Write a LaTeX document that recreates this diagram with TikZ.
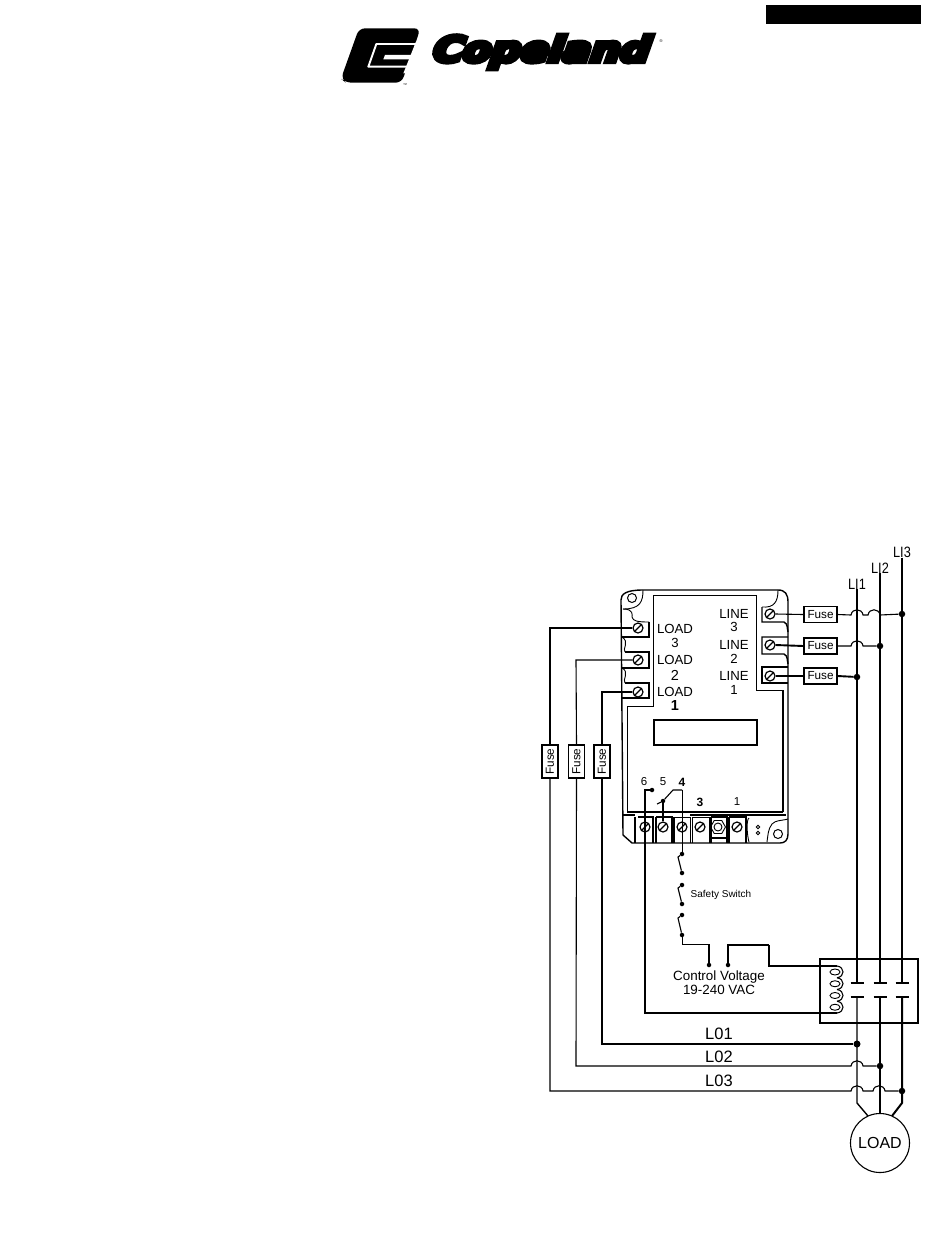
\documentclass[tikz,border=0pt]{standalone}
\usepackage{fontspec}
\setmainfont{Liberation Sans}
\newfontfamily\logofont{DejaVu Sans}[FakeBold=14,FakeSlant=0.3]
\usetikzlibrary{shapes.geometric}
\newcommand{\fsz}[1]{\fontsize{#1}{#1}\selectfont}
\def\hopw{.. controls +(1,-7) and +(-1,-7) .. ++(12,0)}
\tikzset{
  line/.style={line width=1.1pt,black},
  heavy/.style={line width=1.9pt,black},
  board/.style={line width=0.9pt,black},
  boardb/.style={line width=1.4pt,black},
  screw/.style={circle,draw,line width=1.2pt,inner sep=0pt,minimum size=10pt,
    path picture={\draw[line width=1.3pt] (path picture bounding box.south west) -- (path picture bounding box.north east);}},
  dotn/.style={circle,fill=black,inner sep=0pt,minimum size=4.5pt},
  jn/.style={circle,fill=black,inner sep=0pt,minimum size=6.5pt},
  fuseh/.style={draw,line width=1.1pt,fill=white,inner sep=0pt,minimum width=33pt,minimum height=16pt,font=\fsz{11.7}},
  fusev/.style={fuseh,rotate=90},
  load/.style={font=\fsz{13.2},inner sep=0pt},
  num/.style={font=\fsz{11.5},inner sep=0pt},
  bus/.style={font=\fsz{15},inner sep=0pt,xscale=.85},
  lo/.style={font=\fsz{16.5},inner sep=0pt},
  hole/.style={circle,draw,line width=1pt,inner sep=0pt,minimum size=9pt}
}
\begin{document}
\begin{tikzpicture}[x=1pt,y=-1pt]
\useasboundingbox (0,0) rectangle (950,1248);
\fill[white] (0,0) rectangle (950,1248);
% header bar
\fill[black] (766,5) rectangle (921,24);
% logo mark
\begin{scope}[shift={(335,20)},x=0.3333pt,y=-0.3333pt]
  \fill[black,rounded corners=6pt] (72,25) -- (256,25) -- (243,65) -- (215,145) -- (200,188) -- (32,188) -- (18,176) -- cycle;
  \draw[white,line width=1.9pt,line join=round] (262,72) -- (124,72) -- (100,140) -- (235,140);
  \fill[white] (150,105) -- (250,105) -- (245,118) -- (145,118) -- cycle;
  \fill[white] (243,65) -- (262,65) -- (225,160) -- (205,160) -- cycle;
\end{scope}
\node[inner sep=0pt,font=\fsz{4}] (tm) at (405,85) {™};
\node[inner sep=0pt,xscale=1.18,font=\logofont\bfseries\fsz{35}] (logo) at (538,52) {Copeland};
\node[inner sep=0pt,font=\fsz{4}] (reg) at (661,41) {®};

% board outline
\draw[boardb,line join=round] (643,590) -- (778,590) .. controls (785,590) and (788,594) .. (788,602) -- (788,834) .. controls (788,840) and (785,843) .. (780,843) -- (632,843) -- (623,835) -- (621,600) .. controls (621,594) and (626,590) .. (643,590);
\draw[board] (643,590) .. controls (643,602) and (640,609) .. (623,609);
\draw[board] (623,609) .. controls (634,609) and (632,615) .. (632,617) .. controls (633,621) and (637,622) .. (649,622);
\draw[boardb] (649,622) -- (649,637) -- (622,637);
\draw[board] (622,637) .. controls (630,642) and (622,649) .. (625,652);
\draw[boardb] (625,652) -- (649,652) -- (649,668) -- (622,668);
\draw[board] (622,668) .. controls (630,672) and (622,680) .. (625,683);
\draw[boardb] (625,683) -- (649,683) -- (649,698) -- (622,698);
\draw[board] (778,590) .. controls (778,602) and (774,608) .. (762,607);
\draw[boardb] (762,607) -- (762,622) -- (784,622) .. controls (788,624) and (787,628) .. (788,632);
\draw[boardb] (788,637) -- (762,637) -- (762,654) -- (784,654) .. controls (788,656) and (787,660) .. (788,664);
\draw[boardb] (788,667) -- (762,667) -- (762,683) -- (788,683);
% panel
\draw[board] (653,595) -- (756,595) -- (756,690) -- (783,690);
\draw[boardb] (783,690) -- (783,812);
\draw[boardb] (783,812) -- (627,812);
\draw[board] (627,812) -- (627,706) -- (653,706) -- (653,595);
\draw[boardb] (654,720) rectangle (757,745);
% bottom strip
\draw[boardb] (623,815) -- (635,815);
\draw[boardb] (690,815) -- (786,815);
\draw[boardb] (635,817) -- (635,843);
\draw[boardb] (638,817) -- (653,817) -- (653,843);
\draw[boardb] (656,817) -- (656,843);
\draw[boardb] (656,817) -- (672,817) -- (672,843);
\draw[boardb] (674,817) -- (674,843);
\draw[board] (674,817) -- (690,817) -- (690,843);
\draw[board] (692,817) -- (692,843) (692,817) -- (709,817) -- (709,843);
\draw[boardb] (711,817) -- (711,843) (711,817) -- (727,817) -- (727,843);
\draw[boardb] (729,817) -- (729,843) (729,817) -- (746,817) -- (746,843);
\draw[boardb] (712,838) -- (726,838);
\draw[board] (788,819) .. controls (780,821) and (776,820) .. (772,824) .. controls (768,829) and (768,835) .. (767,842);
\draw[board] (749,818) .. controls (746,820) and (747,835) .. (749,842);
% holes and marks
\node[hole] (h1) at (632,598) {};
\node[hole] (h2) at (778,834) {};
\node[circle,draw,line width=.8pt,inner sep=0pt,minimum size=3.5pt] (m1) at (758,827) {};
\node[circle,draw,line width=.8pt,inner sep=0pt,minimum size=3.5pt] (m2) at (758,833) {};
\node[regular polygon,regular polygon sides=6,draw,line width=.9pt,inner sep=0pt,minimum size=15pt] (hex) at (718,827) {};
\node[circle,draw,line width=.9pt,inner sep=0pt,minimum size=8pt] (hexc) at (718,827) {};

% terminals
\node[screw] (sl3) at (638,628) {};
\node[screw] (sl2) at (638,660) {};
\node[screw] (sl1) at (638,692) {};
\node[screw] (sr3) at (770,614) {};
\node[screw] (sr2) at (770,645) {};
\node[screw] (sr1) at (770,676) {};
\node[screw] (b6) at (645,827) {};
\node[screw] (b5) at (663,827) {};
\node[screw] (b4) at (682,827) {};
\node[screw] (b3) at (700,827) {};
\node[screw] (b1) at (737,827) {};

% board labels
\node[load] (tl3) at (675,629) {LOAD};
\node[load] (nl3) at (675,643) {3};
\node[load] (tl2) at (675,660) {LOAD};
\node[load,font=\fsz{14.5}] (nl2) at (675,675) {2};
\node[load] (tl1) at (675,692) {LOAD};
\node[load,font=\bfseries\fsz{14.5}] (nl1) at (675,706) {1};
\node[load] (tr3) at (734,614) {LINE};
\node[load] (nr3) at (734,627) {3};
\node[load] (tr2) at (734,645) {LINE};
\node[load] (nr2) at (734,659) {2};
\node[load] (tr1) at (734,676) {LINE};
\node[load] (nr1) at (734,690) {1};
\node[num] (n6) at (644,782) {6};
\node[num] (n5) at (663,782) {5};
\node[num,font=\bfseries\fsz{12}] (n4) at (682,782) {4};
\node[num,font=\bfseries\fsz{12}] (n3) at (700,802) {3};
\node[num] (n1) at (737,802) {1};

% bus lines
\node[bus] (li1) at (857,584) {LI1};
\node[bus] (li2) at (880,568) {LI2};
\node[bus] (li3) at (902,552) {LI3};
\foreach \n/\x in {1/857,2/880,3/902}{
  \coordinate (ct\n) at (\x,983);
  \coordinate (cb\n) at (\x,997);
  \draw[heavy] (\x-6.5,983) -- (\x+6.5,983);
  \draw[heavy] (\x-6.5,997) -- (\x+6.5,997);
}
\draw[line width=1.4pt] (li1.south) -- (ct1);
\draw[line width=2.1pt] (li2.south) -- (ct2);
\draw[line width=1.9pt] (li3.south) -- (ct3);

% load
\node[circle,draw,line width=1.1pt,minimum size=59pt,inner sep=0pt,font=\fsz{16}] (motor) at (880,1143) {LOAD};
\coordinate (b1k) at (857,1103);
\coordinate (b3k) at (902,1103);
\coordinate (mt1) at (868,1116);
\coordinate (mt2) at (880,1114);
\coordinate (mt3) at (892,1116);
\draw[line width=1.4pt] (cb1) -- (b1k) -- (mt1);
\draw[line width=1.3pt] (cb2) -- (mt2);
\draw[line width=2pt] (cb3) -- (b3k) -- (mt3);

% line-side fuses
\node[fuseh] (ft) at (820.5,614.5) {Fuse};
\node[fuseh] (fm) at (820.5,646) {Fuse};
\node[fuseh] (fb) at (820.5,676) {Fuse};
\node[jn] (j31) at (902,614) {};
\node[jn] (j21) at (880,646) {};
\node[jn] (j11) at (857,677) {};
\coordinate (hta) at (851,615);
\coordinate (hma) at (851,646);
\draw[line] (sr3.east) -- (ft.west);
\draw[heavy] (sr2.east) -- (fm.west);
\draw[line] (sr1.east) -- (fb.west);
\draw[line] (ft.east) -- (hta) \hopw -- ++(5,0) \hopw -- (j31);
\draw[line] (fm.east) -- (hma) \hopw -- (j21);
\draw[heavy] (fb.east) -- (j11);

% load-side fuses and wires
\node[fusev] (fl3) at (550,761.5) {Fuse};
\node[fusev] (fl2) at (576.5,761.5) {Fuse};
\node[fusev] (fl1) at (602,761.5) {Fuse};
\coordinate (c3a) at (550,628);
\coordinate (c3b) at (550,1091);
\coordinate (c2a) at (576,660);
\coordinate (c2b) at (576,1066);
\coordinate (c1a) at (602,692);
\coordinate (c1b) at (602,1044);
\coordinate (hl2) at (851,1066);
\coordinate (hl3) at (851,1091);
\node[jn,minimum size=7pt] (j12) at (857,1044) {};
\node[jn] (j22) at (880,1066) {};
\node[jn] (j32) at (902,1091) {};
\draw[line] (sl3.west) -- (c3a) -- (fl3.east);
\draw[line] (sl2.west) -- (c2a) -- (fl2.east);
\draw[line width=1.4pt] (sl1.west) -- (c1a) -- (fl1.east);
\draw[line] (fl3.west) -- (c3b) -- (hl3) \hopw -- ++(10,0) \hopw -- (j32);
\draw[line] (fl2.west) -- (c2b) -- (hl2) \hopw -- (j22);
\draw[line width=1.4pt] (fl1.west) -- (c1b) -- (j12);
\node[lo] (l01) at (719,1034) {L01};
\node[lo] (l02) at (719,1057) {L02};
\node[lo] (l03) at (719,1081) {L03};

% contactor
\draw[line width=1.1pt] (820,959) rectangle (918,1023);
\coordinate (cl1) at (837,966);
\coordinate (cl2) at (837,1013);
\foreach \i in {0,1,2,3}{
  \draw[line] (837,966+11.75*\i) .. controls (845,966+11.75*\i+1) and (845,966+11.75*\i+10.75) .. (837,966+11.75*\i+11.75);
  \draw[line width=.9pt] (835,972+11.75*\i) ellipse [x radius=5,y radius=3];
}

% control circuit
\node[dotn] (d6) at (652,790) {};
\node[dotn] (d5) at (663,801) {};
\coordinate (t6) at (645,790);
\coordinate (t4a) at (673,790);
\coordinate (t4b) at (682,790);
\coordinate (tail) at (657,804);
\node[dotn] (s1) at (682,854) {};
\node[dotn] (s2) at (682,873) {};
\node[dotn] (s3) at (682,885) {};
\node[dotn] (s4) at (682,904) {};
\node[dotn] (s5) at (682,915) {};
\node[dotn] (s6) at (682,935) {};
\node[dotn] (cv1) at (709,965) {};
\node[dotn] (cv2) at (728,965) {};
\coordinate (w1) at (682,944);
\coordinate (w2) at (709,944);
\coordinate (w3) at (728,945);
\coordinate (w4) at (769,945);
\coordinate (w5) at (769,966);
\coordinate (w6) at (645,1013);
\draw[line] (d6) -- (t6) -- (w6) -- (cl2);
\draw[line width=1.5pt] (t6 |- b6.north) -- (w6) -- (cl2);
\draw[line] (tail) -- (d5) -- (t4a) -- (t4b);
\draw[line width=.8pt] (t4b) -- (s1);
\draw[line] (d5) -- (b5);
\draw[line] (s1) -- (678,857) -- (s2);
\draw[line] (s3) -- (678,888) -- (s4);
\draw[line] (s5) -- (678,918) -- (s6);
\draw[line width=.8pt] (s6) -- (w1) -- (w2);
\draw[line width=1.3pt] (w2) -- (cv1);
\draw[line] (cv2) -- (w3) -- (w4);
\draw[line width=1.4pt] (w4) -- (w5) -- (cl1);
\node[inner sep=0pt,font=\fsz{10}] (safety) at (721,895) {Safety Switch};
\node[inner sep=0pt,font=\fsz{13.4}] (cv) at (719,977) {Control Voltage};
\node[inner sep=0pt,font=\fsz{13.4}] (vac) at (719,990) {19-240 VAC};
\end{tikzpicture}
\end{document}
